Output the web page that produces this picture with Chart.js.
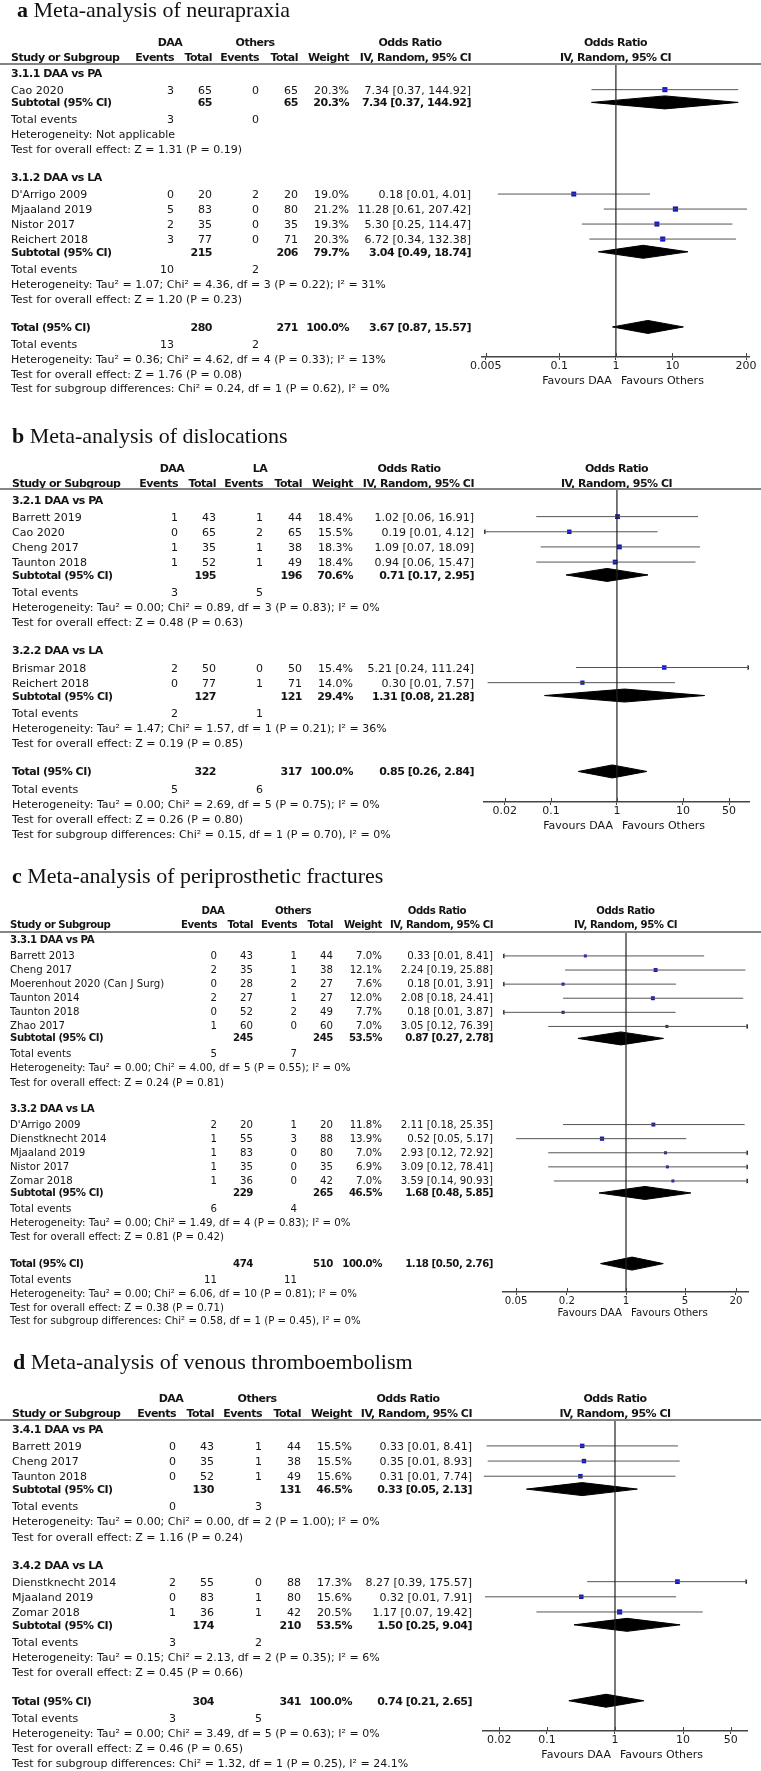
<!DOCTYPE html>
<html>
<head>
<meta charset="utf-8">
<title>Meta-analyses</title>
<script src="https://cdn.jsdelivr.net/npm/chart.js@4.4.1/dist/chart.umd.min.js"></script>
<style>
  html, body { margin: 0; padding: 0; background: #fff; }
  #page { position: relative; width: 761px; height: 1771px; overflow: hidden;
          font-family: "DejaVu Sans", sans-serif; color: #141414; }
  #page canvas { position: absolute; left: 0; }
  .t { position: absolute; white-space: nowrap; line-height: 1; transform: translateY(-50%); }
  .t.r { transform: translate(-100%, -50%); }
  .t.c { transform: translate(-50%, -50%); }
  .t.b { font-weight: bold; }
  .title { position: absolute; white-space: nowrap; line-height: 1;
           font-family: "Liberation Serif", serif; font-size: 22px; color: #111; }
  .rule { position: absolute; left: 0; width: 761px; height: 2px; background: #858585; }
</style>
</head>
<body>
<div id="page"></div>
<script>
// a: neurapraxia
const aStudies = ['Cao 2020', "D'Arrigo 2009", 'Mjaaland 2019', 'Nistor 2017', 'Reichert 2018'];
const aGroup = [0, 1, 1, 1, 1];
const aEvDAA = [3, 0, 5, 2, 3];
const aTotDAA = [65, 20, 83, 35, 77];
const aEvOth = [0, 2, 0, 0, 0];
const aTotOth = [65, 20, 80, 35, 71];
const aWeight = [20.3, 19.0, 21.2, 19.3, 20.3];
const aOR = [7.34, 0.18, 11.28, 5.30, 6.72];
const aLow = [0.37, 0.0082, 0.61, 0.25, 0.34];
const aHigh = [144.92, 4.01, 207.42, 114.47, 132.38];
const aSubgroups = ['3.1.1 DAA vs PA', '3.1.2 DAA vs LA'];
const aSubTotals = [[65, 65], [215, 206]];
const aSubWeight = [20.3, 79.7];
const aSubOR = [7.34, 3.04];
const aSubLow = [0.37, 0.49];
const aSubHigh = [144.92, 18.74];
const aSubEvents = [[3, 0], [10, 2]];
const aSubHet = ['Heterogeneity: Not applicable',
  'Heterogeneity: Tau² = 1.07; Chi² = 4.36, df = 3 (P = 0.22); I² = 31%'];
const aSubZ = ['Test for overall effect: Z = 1.31 (P = 0.19)', 'Test for overall effect: Z = 1.20 (P = 0.23)'];
const aTotals = [280, 271];
const aTotalOR = [3.67, 0.87, 15.57];
const aTotalEvents = [13, 2];
const aTotalHet = 'Heterogeneity: Tau² = 0.36; Chi² = 4.62, df = 4 (P = 0.33); I² = 13%';
const aTotalZ = 'Test for overall effect: Z = 1.76 (P = 0.08)';
const aSubDiff = 'Test for subgroup differences: Chi² = 0.24, df = 1 (P = 0.62), I² = 0%';
const aTicks = [0.005, 0.1, 1, 10, 200];
const aTickLabels = ['0.005', '0.1', '1', '10', '200'];

// b: dislocations
const bStudies = ['Barrett 2019', 'Cao 2020', 'Cheng 2017', 'Taunton 2018', 'Brismar 2018', 'Reichert 2018'];
const bGroup = [0, 0, 0, 0, 1, 1];
const bEvDAA = [1, 0, 1, 1, 2, 0];
const bTotDAA = [43, 65, 35, 52, 50, 77];
const bEvOth = [1, 2, 1, 1, 0, 1];
const bTotOth = [44, 65, 38, 49, 50, 71];
const bWeight = [18.4, 15.5, 18.3, 18.4, 15.4, 14.0];
const bOR = [1.02, 0.19, 1.09, 0.94, 5.21, 0.30];
const bLow = [0.06, 0.009, 0.07, 0.06, 0.24, 0.011];
const bHigh = [16.91, 4.12, 18.09, 15.47, 111.24, 7.57];
const bSubgroups = ['3.2.1 DAA vs PA', '3.2.2 DAA vs LA'];
const bSubTotals = [[195, 196], [127, 121]];
const bSubWeight = [70.6, 29.4];
const bSubOR = [0.71, 1.31];
const bSubLow = [0.17, 0.08];
const bSubHigh = [2.95, 21.28];
const bSubEvents = [[3, 5], [2, 1]];
const bSubHet = ['Heterogeneity: Tau² = 0.00; Chi² = 0.89, df = 3 (P = 0.83); I² = 0%',
  'Heterogeneity: Tau² = 1.47; Chi² = 1.57, df = 1 (P = 0.21); I² = 36%'];
const bSubZ = ['Test for overall effect: Z = 0.48 (P = 0.63)', 'Test for overall effect: Z = 0.19 (P = 0.85)'];
const bTotals = [322, 317];
const bTotalOR = [0.85, 0.26, 2.84];
const bTotalEvents = [5, 6];
const bTotalHet = 'Heterogeneity: Tau² = 0.00; Chi² = 2.69, df = 5 (P = 0.75); I² = 0%';
const bTotalZ = 'Test for overall effect: Z = 0.26 (P = 0.80)';
const bSubDiff = 'Test for subgroup differences: Chi² = 0.15, df = 1 (P = 0.70), I² = 0%';
const bTicks = [0.02, 0.1, 1, 10, 50];
const bTickLabels = ['0.02', '0.1', '1', '10', '50'];

// c: periprosthetic fractures
const cStudies = ['Barrett 2013', 'Cheng 2017', 'Moerenhout 2020 (Can J Surg)', 'Taunton 2014', 'Taunton 2018',
  'Zhao 2017', "D'Arrigo 2009", 'Dienstknecht 2014', 'Mjaaland 2019', 'Nistor 2017', 'Zomar 2018'];
const cGroup = [0, 0, 0, 0, 0, 0, 1, 1, 1, 1, 1];
const cEvDAA = [0, 2, 0, 2, 0, 1, 2, 1, 1, 1, 1];
const cTotDAA = [43, 35, 28, 27, 52, 60, 20, 55, 83, 35, 36];
const cEvOth = [1, 1, 2, 1, 2, 0, 1, 3, 0, 0, 0];
const cTotOth = [44, 38, 27, 27, 49, 60, 20, 88, 80, 35, 42];
const cWeight = [7.0, 12.1, 7.6, 12.0, 7.7, 7.0, 11.8, 13.9, 7.0, 6.9, 7.0];
const cOR = [0.33, 2.24, 0.18, 2.08, 0.18, 3.05, 2.11, 0.52, 2.93, 3.09, 3.59];
const cLow = [0.01, 0.19, 0.01, 0.18, 0.01, 0.12, 0.18, 0.05, 0.12, 0.12, 0.14];
const cHigh = [8.41, 25.88, 3.91, 24.41, 3.87, 76.39, 25.35, 5.17, 72.92, 78.41, 90.93];
const cSubgroups = ['3.3.1 DAA vs PA', '3.3.2 DAA vs LA'];
const cSubTotals = [[245, 245], [229, 265]];
const cSubWeight = [53.5, 46.5];
const cSubOR = [0.87, 1.68];
const cSubLow = [0.27, 0.48];
const cSubHigh = [2.78, 5.85];
const cSubEvents = [[5, 7], [6, 4]];
const cSubHet = ['Heterogeneity: Tau² = 0.00; Chi² = 4.00, df = 5 (P = 0.55); I² = 0%',
  'Heterogeneity: Tau² = 0.00; Chi² = 1.49, df = 4 (P = 0.83); I² = 0%'];
const cSubZ = ['Test for overall effect: Z = 0.24 (P = 0.81)', 'Test for overall effect: Z = 0.81 (P = 0.42)'];
const cTotals = [474, 510];
const cTotalOR = [1.18, 0.50, 2.76];
const cTotalEvents = [11, 11];
const cTotalHet = 'Heterogeneity: Tau² = 0.00; Chi² = 6.06, df = 10 (P = 0.81); I² = 0%';
const cTotalZ = 'Test for overall effect: Z = 0.38 (P = 0.71)';
const cSubDiff = 'Test for subgroup differences: Chi² = 0.58, df = 1 (P = 0.45), I² = 0%';
const cTicks = [0.05, 0.2, 1, 5, 20];
const cTickLabels = ['0.05', '0.2', '1', '5', '20'];

// d: venous thromboembolism
const dStudies = ['Barrett 2019', 'Cheng 2017', 'Taunton 2018', 'Dienstknecht 2014', 'Mjaaland 2019', 'Zomar 2018'];
const dGroup = [0, 0, 0, 1, 1, 1];
const dEvDAA = [0, 0, 0, 2, 0, 1];
const dTotDAA = [43, 35, 52, 55, 83, 36];
const dEvOth = [1, 1, 1, 0, 1, 1];
const dTotOth = [44, 38, 49, 88, 80, 42];
const dWeight = [15.5, 15.5, 15.6, 17.3, 15.6, 20.5];
const dOR = [0.33, 0.35, 0.31, 8.27, 0.32, 1.17];
const dLow = [0.013, 0.0135, 0.0118, 0.39, 0.0123, 0.07];
const dHigh = [8.41, 8.93, 7.74, 175.57, 7.91, 19.42];
const dSubgroups = ['3.4.1 DAA vs PA', '3.4.2 DAA vs LA'];
const dSubTotals = [[130, 131], [174, 210]];
const dSubWeight = [46.5, 53.5];
const dSubOR = [0.33, 1.50];
const dSubLow = [0.05, 0.25];
const dSubHigh = [2.13, 9.04];
const dSubEvents = [[0, 3], [3, 2]];
const dSubHet = ['Heterogeneity: Tau² = 0.00; Chi² = 0.00, df = 2 (P = 1.00); I² = 0%',
  'Heterogeneity: Tau² = 0.15; Chi² = 2.13, df = 2 (P = 0.35); I² = 6%'];
const dSubZ = ['Test for overall effect: Z = 1.16 (P = 0.24)', 'Test for overall effect: Z = 0.45 (P = 0.66)'];
const dTotals = [304, 341];
const dTotalOR = [0.74, 0.21, 2.65];
const dTotalEvents = [3, 5];
const dTotalHet = 'Heterogeneity: Tau² = 0.00; Chi² = 3.49, df = 5 (P = 0.63); I² = 0%';
const dTotalZ = 'Test for overall effect: Z = 0.46 (P = 0.65)';
const dSubDiff = 'Test for subgroup differences: Chi² = 1.32, df = 1 (P = 0.25), I² = 24.1%';
const dTicks = [0.02, 0.1, 1, 10, 50];
const dTickLabels = ['0.02', '0.1', '1', '10', '50'];

const panels = [
  { letter: 'a', title: 'Meta-analysis of neurapraxia', other: 'Others',
    studies: aStudies, group: aGroup, evD: aEvDAA, totD: aTotDAA, evO: aEvOth, totO: aTotOth,
    weight: aWeight, or: aOR, lo: aLow, hi: aHigh, subs: aSubgroups, subTot: aSubTotals,
    subW: aSubWeight, subOR: aSubOR, subLo: aSubLow, subHi: aSubHigh, subEv: aSubEvents,
    subHet: aSubHet, subZ: aSubZ, tot: aTotals, totOR: aTotalOR, totEv: aTotalEvents,
    totHet: aTotalHet, totZ: aTotalZ, diff: aSubDiff, ticks: aTicks, tickLabels: aTickLabels,
    range: [0.0043, 225],
    lay: { titleY: 17, titleX: 17, rule: 64, unit: 15, first: 8.7, hdr: [-22, -7], font: 11,
           cols: [11, 174, 212, 259, 298, 349, 471], mid: [170, 255, 410], plot: [482, 749] } },
  { letter: 'b', title: 'Meta-analysis of dislocations', other: 'LA',
    studies: bStudies, group: bGroup, evD: bEvDAA, totD: bTotDAA, evO: bEvOth, totO: bTotOth,
    weight: bWeight, or: bOR, lo: bLow, hi: bHigh, subs: bSubgroups, subTot: bSubTotals,
    subW: bSubWeight, subOR: bSubOR, subLo: bSubLow, subHi: bSubHigh, subEv: bSubEvents,
    subHet: bSubHet, subZ: bSubZ, tot: bTotals, totOR: bTotalOR, totEv: bTotalEvents,
    totHet: bTotalHet, totZ: bTotalZ, diff: bSubDiff, ticks: bTicks, tickLabels: bTickLabels,
    range: [0.0097, 100],
    lay: { titleY: 443, titleX: 12, rule: 489, unit: 15.15, first: 10.5, hdr: [-21, -6.5], font: 11,
           cols: [12, 178, 216, 263, 302, 353, 474], mid: [172, 260, 409], plot: [484, 749] } },
  { letter: 'c', title: 'Meta-analysis of periprosthetic fractures', other: 'Others',
    studies: cStudies, group: cGroup, evD: cEvDAA, totD: cTotDAA, evO: cEvOth, totO: cTotOth,
    weight: cWeight, or: cOR, lo: cLow, hi: cHigh, subs: cSubgroups, subTot: cSubTotals,
    subW: cSubWeight, subOR: cSubOR, subLo: cSubLow, subHi: cSubHigh, subEv: cSubEvents,
    subHet: cSubHet, subZ: cSubZ, tot: cTotals, totOR: cTotalOR, totEv: cTotalEvents,
    totHet: cTotalHet, totZ: cTotalZ, diff: cSubDiff, ticks: cTicks, tickLabels: cTickLabels,
    range: [0.035, 27.8],
    lay: { titleY: 883, titleX: 12, rule: 932, unit: 14.1, first: 8, hdr: [-21, -7], font: 10.2,
           cols: [10, 217, 253, 297, 333, 382, 493], mid: [213, 293, 437], plot: [503, 748] } },
  { letter: 'd', title: 'Meta-analysis of venous thromboembolism', other: 'Others',
    studies: dStudies, group: dGroup, evD: dEvDAA, totD: dTotDAA, evO: dEvOth, totO: dTotOth,
    weight: dWeight, or: dOR, lo: dLow, hi: dHigh, subs: dSubgroups, subTot: dSubTotals,
    subW: dSubWeight, subOR: dSubOR, subLo: dSubLow, subHi: dSubHigh, subEv: dSubEvents,
    subHet: dSubHet, subZ: dSubZ, tot: dTotals, totOR: dTotalOR, totEv: dTotalEvents,
    totHet: dTotalHet, totZ: dTotalZ, diff: dSubDiff, ticks: dTicks, tickLabels: dTickLabels,
    range: [0.0115, 87],
    lay: { titleY: 1369, titleX: 13, rule: 1420, unit: 15.15, first: 8.8, hdr: [-22, -7], font: 11,
           cols: [12, 176, 214, 262, 301, 352, 472], mid: [171, 257, 408], plot: [483, 747] } }
];

Chart.defaults.font.family = 'DejaVu Sans';
Chart.defaults.color = '#1a1a1a';

const TOP = 70;   // canvas space above the header rule

const tickCross = {
  id: 'tickCross',
  afterDraw(chart) {
    const { ctx, chartArea, scales: { x } } = chart;
    ctx.save();
    ctx.strokeStyle = '#444';
    ctx.lineWidth = 1;
    x.ticks.forEach(t => {
      const px = Math.round(x.getPixelForValue(t.value)) + 0.5;
      ctx.beginPath();
      ctx.moveTo(px, chartArea.bottom - 4);
      ctx.lineTo(px, chartArea.bottom);
      ctx.stroke();
    });
    ctx.restore();
  }
};

function layoutRows(p) {
  const u = p.lay.unit;
  const rows = [];
  let y = p.lay.first;
  p.subs.forEach((name, g) => {
    if (g > 0) y += 1.85 * u;
    rows.push({ kind: 'group', y, g });
    p.studies.forEach((s, i) => {
      if (p.group[i] !== g) return;
      y += (rows[rows.length - 1].kind === 'group' ? 1.13 : 1) * u;
      rows.push({ kind: 'study', y, i });
    });
    y += 0.85 * u; rows.push({ kind: 'sub', y, g });
    y += 1.13 * u; rows.push({ kind: 'events', y, ev: p.subEv[g] });
    y += u; rows.push({ kind: 'note', y, text: p.subHet[g] });
    y += u; rows.push({ kind: 'note', y, text: p.subZ[g] });
  });
  y += 1.88 * u; rows.push({ kind: 'total', y });
  y += 1.13 * u; rows.push({ kind: 'events', y, ev: p.totEv });
  const axis = Math.round(y + 0.87 * u);
  y += u; rows.push({ kind: 'note', y, text: p.totHet });
  y += u; rows.push({ kind: 'note', y, text: p.totZ });
  y += 0.97 * u; rows.push({ kind: 'note', y, text: p.diff });
  return { rows, axis };
}

function buildDatasets(p, rows, axis) {
  const [min, max] = p.range;
  const yOf = i => rows.find(r => r.kind === 'study' && r.i === i).y;
  const ci = [];
  p.studies.forEach((s, i) => {
    ci.push({ x: p.lo[i], y: yOf(i) }, { x: p.hi[i], y: yOf(i) }, { x: null, y: null });
  });
  const squares = p.studies.map((s, i) => ({ x: p.or[i], y: yOf(i) }));
  const sizes = p.weight.map(w => 0.8 * Math.sqrt(w));
  const arrows = [], rot = [];
  p.studies.forEach((s, i) => {
    if (p.lo[i] < min) { arrows.push({ x: min, y: yOf(i) }); rot.push(-90); }
    if (p.hi[i] > max) { arrows.push({ x: max, y: yOf(i) }); rot.push(90); }
  });
  const ds = [
    { data: [{ x: 1, y: 0 }, { x: 1, y: axis }], borderColor: '#222', borderWidth: 1.2, pointRadius: 0 },
    { data: ci, borderColor: '#555', borderWidth: 1, pointRadius: 0, spanGaps: false },
    { data: squares, showLine: false, pointStyle: 'rect', pointRadius: sizes,
      pointBackgroundColor: '#1212c8', pointBorderWidth: 0 },
    { data: arrows, showLine: false, pointStyle: 'triangle', pointRadius: 3, pointRotation: rot,
      pointBackgroundColor: '#222', pointBorderWidth: 0 }
  ];
  const diamonds = [];
  rows.forEach(r => {
    if (r.kind === 'sub') diamonds.push([p.subOR[r.g], p.subLo[r.g], p.subHi[r.g], r.y]);
    if (r.kind === 'total') diamonds.push([p.totOR[0], p.totOR[1], p.totOR[2], r.y]);
  });
  diamonds.forEach(([est, lo, hi, y]) => {
    ds.push({ data: [{ x: lo, y }, { x: est, y: y - 6.5 }, { x: hi, y }],
      borderColor: '#000', borderWidth: 1, pointRadius: 0, fill: false });
    ds.push({ data: [{ x: lo, y }, { x: est, y: y + 6.5 }, { x: hi, y }],
      borderColor: '#000', borderWidth: 1, pointRadius: 0, fill: '-1', backgroundColor: '#000' });
  });
  return ds;
}

const page = document.getElementById('page');

function put(text, x, y, align, bold, size) {
  const el = document.createElement('div');
  el.className = 't' + (bold ? ' b' : '') + (align === 'r' ? ' r' : align === 'c' ? ' c' : '');
  el.style.left = x + 'px';
  el.style.top = y + 'px';
  el.style.fontSize = size + 'px';
  if (bold) el.style.letterSpacing = (-0.5 * size / 11).toFixed(2) + 'px';
  el.textContent = text;
  page.appendChild(el);
}

const ciText = (e, l, h) => `${e.toFixed(2)} [${l.toFixed(2)}, ${h.toFixed(2)}]`;

panels.forEach(p => {
  const L = p.lay;
  const { rows, axis } = layoutRows(p);
  const top = L.rule - TOP;

  const canvas = document.createElement('canvas');
  canvas.width = 761;
  canvas.height = TOP + axis + 50;
  canvas.style.top = top + 'px';
  page.appendChild(canvas);

  const padding = { left: L.plot[0], right: 761 - L.plot[1], top: TOP, bottom: 0 };
  const chart = new Chart(canvas, {
    type: 'line',
    data: { datasets: buildDatasets(p, rows, axis) },
    options: {
      responsive: false,
      animation: false,
      events: [],
      layout: { padding },
      plugins: { legend: { display: false }, tooltip: { enabled: false } },
      scales: {
        x: {
          type: 'logarithmic',
          min: p.range[0],
          max: p.range[1],
          afterBuildTicks: s => { s.ticks = p.ticks.map(v => ({ value: v })); },
          ticks: {
            callback: (v, i) => p.tickLabels[i],
            autoSkip: false, maxRotation: 0, padding: 0,
            color: '#1a1a1a', font: { size: L.font }
          },
          grid: { drawOnChartArea: false, drawTicks: true, tickLength: 3, color: '#444' },
          border: { display: true, color: '#444', width: 1.5 }
        },
        y: { type: 'linear', min: 0, max: axis, reverse: true, display: false }
      }
    },
    plugins: [tickCross]
  });
  // make the chart area end exactly at the axis row
  chart.options.layout.padding = Object.assign({}, padding,
    { bottom: chart.chartArea.bottom - (TOP + axis) });
  chart.update();

  const ys = chart.scales.y, xs = chart.scales.x;
  const py = v => top + ys.getPixelForValue(v);
  const f = L.font, c = L.cols, m = L.mid;
  const plotMid = (L.plot[0] + L.plot[1]) / 2;

  // title
  const t = document.createElement('div');
  t.className = 'title';
  t.style.left = L.titleX + 'px';
  t.style.top = (L.titleY - 0.84 * 22) + 'px';
  t.innerHTML = '<b>' + p.letter + '</b> ' + p.title;
  page.appendChild(t);

  // header
  const h1 = py(L.hdr[0]), h2 = py(L.hdr[1]);
  put('DAA', m[0], h1, 'c', true, f);
  put(p.other, m[1], h1, 'c', true, f);
  put('Odds Ratio', m[2], h1, 'c', true, f);
  put('Odds Ratio', plotMid, h1, 'c', true, f);
  put('Study or Subgroup', c[0], h2, 'l', true, f);
  put('Events', c[1], h2, 'r', true, f);
  put('Total', c[2], h2, 'r', true, f);
  put('Events', c[3], h2, 'r', true, f);
  put('Total', c[4], h2, 'r', true, f);
  put('Weight', c[5], h2, 'r', true, f);
  put('IV, Random, 95% CI', c[6], h2, 'r', true, f);
  put('IV, Random, 95% CI', plotMid, h2, 'c', true, f);

  const rule = document.createElement('div');
  rule.className = 'rule';
  rule.style.top = (py(0) - 1) + 'px';
  page.appendChild(rule);

  rows.forEach(r => {
    const y = py(r.y);
    if (r.kind === 'group') {
      put(p.subs[r.g], c[0], y, 'l', true, f);
    } else if (r.kind === 'study') {
      const i = r.i;
      put(p.studies[i], c[0], y, 'l', false, f);
      put(String(p.evD[i]), c[1], y, 'r', false, f);
      put(String(p.totD[i]), c[2], y, 'r', false, f);
      put(String(p.evO[i]), c[3], y, 'r', false, f);
      put(String(p.totO[i]), c[4], y, 'r', false, f);
      put(p.weight[i].toFixed(1) + '%', c[5], y, 'r', false, f);
      put(ciText(p.or[i], p.lo[i], p.hi[i]), c[6], y, 'r', false, f);
    } else if (r.kind === 'sub') {
      const g = r.g;
      put('Subtotal (95% CI)', c[0], y, 'l', true, f);
      put(String(p.subTot[g][0]), c[2], y, 'r', true, f);
      put(String(p.subTot[g][1]), c[4], y, 'r', true, f);
      put(p.subW[g].toFixed(1) + '%', c[5], y, 'r', true, f);
      put(ciText(p.subOR[g], p.subLo[g], p.subHi[g]), c[6], y, 'r', true, f);
    } else if (r.kind === 'total') {
      put('Total (95% CI)', c[0], y, 'l', true, f);
      put(String(p.tot[0]), c[2], y, 'r', true, f);
      put(String(p.tot[1]), c[4], y, 'r', true, f);
      put((100).toFixed(1) + '%', c[5], y, 'r', true, f);
      put(ciText(p.totOR[0], p.totOR[1], p.totOR[2]), c[6], y, 'r', true, f);
    } else if (r.kind === 'events') {
      put('Total events', c[0], y, 'l', false, f);
      put(String(r.ev[0]), c[1], y, 'r', false, f);
      put(String(r.ev[1]), c[3], y, 'r', false, f);
    } else {
      put(r.text, c[0], y, 'l', false, f);
    }
  });

  // favours labels either side of the line of no effect
  const x1 = xs.getPixelForValue(1);
  const fy = py(axis) + 2.1 * f;
  put('Favours DAA', x1 - 4, fy, 'r', false, f);
  put('Favours Others', x1 + 5, fy, 'l', false, f);
});
</script>
</body>
</html>
